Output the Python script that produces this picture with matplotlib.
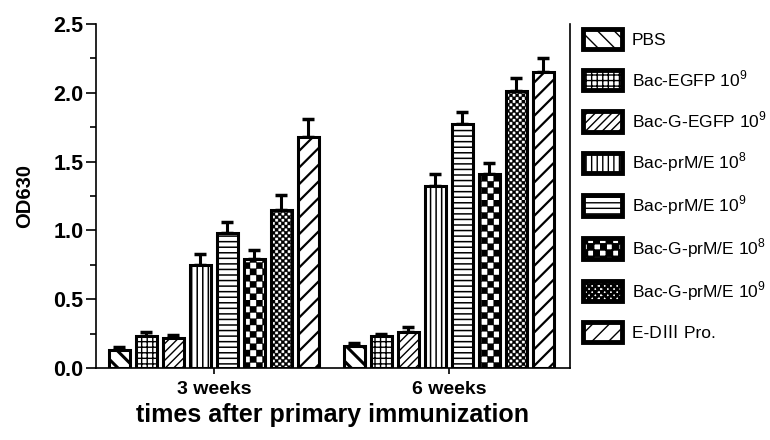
import numpy as np
import matplotlib
matplotlib.use("Agg")
import matplotlib.pyplot as plt
import matplotlib.hatch as mhatch
from matplotlib.path import Path
from matplotlib.patches import Patch
from matplotlib.ticker import MultipleLocator

plt.rcParams['font.family'] = ['Liberation Sans', 'Noto Sans CJK SC', 'DejaVu Sans']
plt.rcParams['hatch.linewidth'] = 1.0

# data
groups = ['3 weeks', '6 weeks']
series = ['PBS', 'Bac-EGFP 10$^\\mathregular{9}$', 'Bac-G-EGFP 10$^\\mathregular{9}$',
          'Bac-prM/E 10$^\\mathregular{8}$', 'Bac-prM/E 10$^\\mathregular{9}$',
          'Bac-G-prM/E 10$^\\mathregular{8}$', 'Bac-G-prM/E 10$^\\mathregular{9}$',
          'E-D\u2162 Pro.']
mean_3w = [0.13, 0.23, 0.22, 0.75, 0.98, 0.79, 1.15, 1.68]
err_3w = [0.02, 0.03, 0.02, 0.08, 0.08, 0.07, 0.11, 0.13]
mean_6w = [0.16, 0.23, 0.26, 1.32, 1.77, 1.41, 2.01, 2.15]
err_6w = [0.02, 0.02, 0.04, 0.09, 0.09, 0.08, 0.10, 0.10]
hatches = ['\\\\', '+++', '////', '|||', '---', 'O', 'o', '//']
hatch_lw = [2.2, 1.0, 1.0, 1.1, 1.1, 0.3, 0.3, 1.6]


# checkerboard hatch ('O' coarse, 'o' fine) - replaces the circle hatches
class CheckerHatch(mhatch.HatchPatternBase):
    def __init__(self, hatch, density):
        self.n = 16 * hatch.count('O') + 32 * hatch.count('o')
        self.num_vertices = (self.n * self.n // 2) * 5

    def set_vertices_and_codes(self, vertices, codes):
        s = 1.0 / self.n
        k = 0
        for i in range(self.n):
            for j in range(self.n):
                if (i + j) % 2 == 0:
                    x0, y0 = i * s, j * s
                    vertices[k:k + 5] = [(x0, y0), (x0 + s, y0), (x0 + s, y0 + s),
                                         (x0, y0 + s), (x0, y0)]
                    codes[k:k + 5] = [Path.MOVETO, Path.LINETO, Path.LINETO,
                                      Path.LINETO, Path.CLOSEPOLY]
                    k += 5


mhatch._hatch_types = [mhatch.HorizontalHatch, mhatch.VerticalHatch,
                       mhatch.NorthEastHatch, mhatch.SouthEastHatch, CheckerHatch]


def set_hlw(patch, lw):
    if hasattr(patch, 'set_hatch_linewidth'):
        patch.set_hatch_linewidth(lw)


fig = plt.figure(figsize=(7.7, 4.4), dpi=100)
ax = fig.add_axes([0.1247, 0.1636, 0.6153, 0.7818])

slot = 0.115
width = 0.09
x = np.arange(len(groups))
means = np.array([mean_3w, mean_6w])
errs = np.array([err_3w, err_6w])

for i in range(len(series)):
    pos = x + (i - 3.5) * slot
    ax.errorbar(pos, means[:, i], yerr=[np.zeros(2), errs[:, i]], fmt='none',
                ecolor='black', elinewidth=2.2, capsize=4.5, capthick=2.5, zorder=1)
    bars = ax.bar(pos, means[:, i], width, color='white', edgecolor='black',
                  linewidth=2.2, hatch=hatches[i], zorder=2)
    for b in bars:
        set_hlw(b, hatch_lw[i])

ax.set_xlim(-0.502, 1.515)
ax.set_ylim(0, 2.5)
ax.set_xticks(x)
ax.set_xticklabels(groups, fontsize=14, fontweight='bold')
ax.yaxis.set_minor_locator(MultipleLocator(0.25))
ax.set_yticks([0, 0.5, 1.0, 1.5, 2.0, 2.5])
ax.set_yticklabels(['0.0', '0.5', '1.0', '1.5', '2.0', '2.5'], fontsize=15.5, fontweight='bold')
ax.tick_params(axis='y', which='major', length=7, width=1.2, pad=2)
ax.tick_params(axis='y', which='minor', length=4, width=1.2)
ax.tick_params(axis='x', length=4, width=1.2, pad=5)
ax.spines['top'].set_visible(False)
for s in ['left', 'bottom', 'right']:
    ax.spines[s].set_linewidth(1.2)

ax.set_ylabel('OD630', fontsize=14.5, fontweight='bold', labelpad=14)
ax.set_xlabel('times after primary immunization', fontsize=18, fontweight='bold', labelpad=4)

handles = []
for h, lw in zip(hatches, hatch_lw):
    p = Patch(facecolor='white', edgecolor='black', hatch=h, linewidth=3.5)
    set_hlw(p, lw)
    handles.append(p)
fig.legend(handles, series, loc='upper left', bbox_to_anchor=(0.757, 0.935),
           frameon=False, fontsize=12.5, handlelength=2.25, handleheight=1.45,
           handletextpad=0.55, labelspacing=1.1, borderpad=0, borderaxespad=0)

fig.savefig('out.png', dpi=100, facecolor='white')
